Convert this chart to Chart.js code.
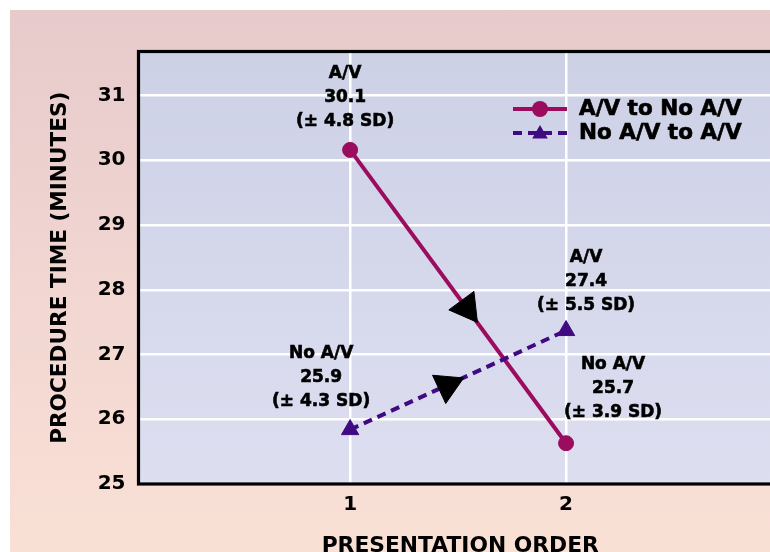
<!DOCTYPE html>
<html>
<head>
<meta charset="utf-8">
<script src="https://cdn.jsdelivr.net/npm/chart.js@4.4.0/dist/chart.umd.min.js"></script>
<style>
  html, body { margin: 0; padding: 0; background: #ffffff; width: 770px; height: 552px; overflow: hidden; }
  #wrap { position: absolute; left: 10px; top: 10px; width: 800px; height: 560px;
          background: linear-gradient(to bottom, #e7cacb 0%, #f1d6d2 50%, #fae1d5 100%); }
</style>
</head>
<body>
<div id="wrap"><canvas id="c"></canvas></div>
<script>
// ---- data ----
const categories = [1, 2];                       // presentation order
const avToNoAv = [30.16, 25.63];                 // A/V to No A/V
const noAvToAv = [25.84, 27.37];                 // No A/V to A/V
const seriesNames = ['A/V to No A/V', 'No A/V to A/V'];
const avToNoAvLabels = [['A/V', '30.1', '(± 4.8 SD)'], ['No A/V', '25.7', '(± 3.9 SD)']];
const noAvToAvLabels = [['No A/V', '25.9', '(± 4.3 SD)'], ['A/V', '27.4', '(± 5.5 SD)']];
const arrowX = [1.54, 1.45];                     // direction arrows on the lines
const arrowY = [27.72, 26.52];
const yTicks = [25, 26, 27, 28, 29, 30, 31];
const xTickLabels = ['1', '2'];
const xTitle = 'PRESENTATION ORDER';
const yTitle = 'PROCEDURE TIME (MINUTES)';

const C1 = '#9b0b5e';
const C2 = '#3f0a82';
const FONT = "'DejaVu Sans', sans-serif";

const toXY = (xs, ys) => xs.map((x, i) => ({ x: x, y: ys[i] }));

// plot background + frame
const frame = {
  id: 'frame',
  beforeDraw(chart) {
    const { ctx, chartArea: a } = chart;
    const g = ctx.createLinearGradient(0, a.top, 0, a.bottom);
    g.addColorStop(0, '#cdd1e6');
    g.addColorStop(1, '#dddef0');
    ctx.save();
    ctx.fillStyle = g;
    ctx.fillRect(a.left, a.top, a.right - a.left, a.bottom - a.top);
    ctx.restore();
  },
  beforeDatasetsDraw(chart) {
    const { ctx, chartArea: a } = chart;
    ctx.save();
    ctx.strokeStyle = '#000';
    ctx.lineWidth = 3.2;
    ctx.strokeRect(a.left, a.top, a.right - a.left, a.bottom - a.top);
    ctx.restore();
  }
};

// value annotations next to each point
const notes = {
  id: 'notes',
  afterDatasetsDraw(chart) {
    const { ctx } = chart;
    const offs = [
      [[-5, -76], [47, -79]],
      [[-29, -76], [20, -73]]
    ];
    const texts = [avToNoAvLabels, noAvToAvLabels];
    ctx.save();
    ctx.font = "bold 17px " + FONT;
    ctx.fillStyle = '#000';
    ctx.strokeStyle = '#000';
    ctx.lineWidth = 0.6;
    ctx.textAlign = 'center';
    ctx.textBaseline = 'middle';
    for (let d = 0; d < 2; d++) {
      const meta = chart.getDatasetMeta(d);
      meta.data.forEach((pt, i) => {
        const lines = texts[d][i];
        lines.forEach((t, k) => {
          const x = pt.x + offs[d][i][0], y = pt.y + offs[d][i][1] + k * 24;
          ctx.fillText(t, x, y);
          ctx.strokeText(t, x, y);
        });
      });
    }
    ctx.restore();
  }
};

// legend inside the plot
const inLegend = {
  id: 'inLegend',
  afterDatasetsDraw(chart) {
    const { ctx, chartArea: a } = chart;
    const x0 = a.right - 269, x1 = a.right - 215, tx = a.right - 203;
    const ys = [a.top + 57.5, a.top + 81.5];
    ctx.save();
    for (let d = 0; d < 2; d++) {
      const ds = chart.data.datasets[d];
      const y = ys[d];
      const cx = (x0 + x1) / 2;
      ctx.strokeStyle = ds.borderColor;
      ctx.lineWidth = ds.borderWidth;
      ctx.setLineDash(ds.borderDash || []);
      ctx.beginPath();
      ctx.moveTo(x0, y);
      ctx.lineTo(x1, y);
      ctx.stroke();
      ctx.setLineDash([]);
      ctx.fillStyle = ds.pointBackgroundColor;
      ctx.beginPath();
      if (ds.pointStyle === 'circle') {
        ctx.arc(cx, y, ds.pointRadius + 0.5, 0, Math.PI * 2);
      } else {
        const r = ds.pointRadius - 1;
        const yy = y + 1;
        ctx.moveTo(cx, yy - r);
        ctx.lineTo(cx + r * Math.sin(Math.PI * 2 / 3), yy - r * Math.cos(Math.PI * 2 / 3));
        ctx.lineTo(cx - r * Math.sin(Math.PI * 2 / 3), yy - r * Math.cos(Math.PI * 2 / 3));
        ctx.closePath();
      }
      ctx.fill();
      ctx.fillStyle = '#000';
      ctx.strokeStyle = '#000';
      ctx.lineWidth = 0.7;
      ctx.font = "bold 21.5px " + FONT;
      ctx.textAlign = 'left';
      ctx.textBaseline = 'middle';
      ctx.fillText(seriesNames[d], tx, y);
      ctx.strokeText(seriesNames[d], tx, y);
    }
    ctx.restore();
  }
};

new Chart(document.getElementById('c'), {
  type: 'line',
  data: {
    datasets: [
      {
        label: seriesNames[0],
        data: toXY(categories, avToNoAv),
        borderColor: C1, backgroundColor: C1,
        borderWidth: 4,
        pointStyle: 'circle', pointRadius: 7.5,
        pointBackgroundColor: C1, pointBorderColor: C1, pointBorderWidth: 1,
        order: 2
      },
      {
        label: seriesNames[1],
        data: toXY(categories, noAvToAv),
        borderColor: C2, backgroundColor: C2,
        borderWidth: 4, borderDash: [9, 6],
        pointStyle: 'triangle', pointRadius: 10,
        pointBackgroundColor: C2, pointBorderColor: C2, pointBorderWidth: 1,
        order: 1
      },
      {
        label: 'arrows',
        data: toXY(arrowX, arrowY),
        showLine: false,
        pointStyle: 'triangle', pointRadius: 18,
        pointRotation: [143.6, 65],
        pointBackgroundColor: '#000', pointBorderColor: '#000', pointBorderWidth: 1,
        order: 0
      }
    ]
  },
  options: {
    responsive: true,
    maintainAspectRatio: false,
    animation: false,
    layout: { padding: { top: 41.5, right: 28, left: 0, bottom: 0 } },
    plugins: { legend: { display: false }, tooltip: { enabled: false } },
    scales: {
      x: {
        type: 'linear',
        min: 0.02, max: 3,
        border: { display: false },
        grid: { color: '#ffffff', lineWidth: 2.5, drawTicks: false },
        ticks: {
          stepSize: 1, includeBounds: false, padding: 9,
          color: '#000', font: { family: FONT, size: 20, weight: 'bold' },
          callback: (v) => { const i = categories.indexOf(v); return i >= 0 ? xTickLabels[i] : null; }
        },
        title: {
          display: true, text: xTitle, color: '#000',
          font: { family: FONT, size: 21.8, weight: 'bold' },
          padding: { top: 0, bottom: 11 }
        },
        afterFit: (s) => { s.height = 86; }
      },
      y: {
        min: 25, max: 31.68,
        border: { display: false },
        grid: { color: '#ffffff', lineWidth: 2.5, drawTicks: false },
        ticks: {
          stepSize: 1, includeBounds: false, padding: 13,
          color: '#000', font: { family: FONT, size: 20, weight: 'bold' },
          callback: (v) => yTicks.includes(v) ? String(v) : null
        },
        title: {
          display: true, text: yTitle, color: '#000',
          font: { family: FONT, size: 21.6, weight: 'bold' },
          padding: { top: 37, bottom: 0 }
        },
        afterFit: (s) => { s.width = 128.5; }
      }
    }
  },
  plugins: [frame, notes, inLegend]
});
</script>
</body>
</html>
